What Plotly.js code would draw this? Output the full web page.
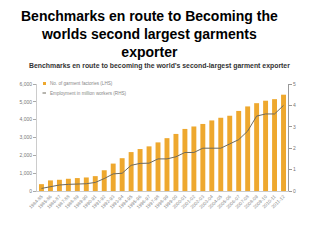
<!DOCTYPE html>
<html><head><meta charset="utf-8">
<script src="https://cdn.plot.ly/plotly-3.0.1.min.js"></script>
<style>html,body{margin:0;padding:0;background:#fff}#c{width:320px;height:240px}</style>
</head><body><div id="c"></div>
<script>
var years = ["1984-85","1985-86","1986-87","1987-88","1988-89","1989-90","1990-91","1991-92","1992-93","1993-94","1994-95","1995-96","1996-97","1997-98","1998-99","1999-00","2000-01","2001-02","2002-03","2003-04","2004-05","2005-06","2006-07","2007-08","2008-09","2009-10","2010-11","2011-12"];
var factories = [384,594,629,685,725,759,834,1163,1537,1839,2182,2353,2503,2726,2963,3200,3480,3618,3760,3957,4107,4220,4490,4743,4925,5063,5150,5400];
var employment = [0.12,0.20,0.28,0.31,0.32,0.34,0.40,0.58,0.80,0.83,1.20,1.29,1.30,1.50,1.50,1.60,1.80,1.80,2.00,2.00,2.00,2.20,2.40,2.80,3.50,3.60,3.60,4.00];
var leftTicks = [0,1000,2000,3000,4000,5000,6000];
var rightTicks = [0,1,2,3,4,5];
var seriesNames = ['No. of garment factories (LHS)','Employment in million workers (RHS)'];
var barColor = '#EEA82E', lineColor = '#6E6A5E';

var traces = [
  {type:'bar', x:years, y:factories, name:seriesNames[0], marker:{color:barColor}},
  {type:'scatter', mode:'lines', x:years, y:employment, yaxis:'y2', name:seriesNames[1], line:{color:lineColor, width:1}}
];
var FF = 'Liberation Sans, Arial, sans-serif';
var tf = {family:FF, size:5, color:'#777'};
var plotH = 240-84-49, plotW = 320-37-32;
function py(yPix){return (240-49-yPix)/plotH;}
function px(xPix){return (xPix-37)/plotW;}
var layout = {
  width:320, height:240, paper_bgcolor:'#fff', plot_bgcolor:'#fff',
  margin:{l:37, r:32, t:84, b:49},
  bargap:0.45, showlegend:false,
  xaxis:{type:'category', tickangle:-45, tickfont:{family:FF, size:4.7, color:'#888'}, showline:true, linecolor:'#ccc', linewidth:1, ticks:'', showgrid:false, automargin:false},
  yaxis:{range:[0,6000], tickvals:leftTicks, ticktext:leftTicks.map(function(v){return v.toLocaleString('en-US');}), tickfont:tf, showgrid:false, zeroline:false, showline:true, linecolor:'#ccc', ticks:'outside', ticklen:3, tickcolor:'#aaa', automargin:false},
  yaxis2:{range:[0,5], tickvals:rightTicks, overlaying:'y', side:'right', tickfont:tf, showgrid:false, zeroline:false, showline:true, linecolor:'#999', ticks:'outside', ticklen:3, tickcolor:'#999', automargin:false},
  shapes:[
    {type:'rect', xref:'paper', yref:'paper', x0:px(43), x1:px(46), y0:py(85), y1:py(82), fillcolor:barColor, line:{width:0}},
    {type:'line', xref:'paper', yref:'paper', x0:px(42.5), x1:px(46), y0:py(93), y1:py(93), line:{color:lineColor, width:1}}
  ],
  annotations:[
    {text:'<b>Benchmarks en route to Becoming the<br>worlds second largest garments<br>exporter</b>', xref:'paper', yref:'paper', x:px(149), y:py(6), xanchor:'center', yanchor:'top', showarrow:false,
     font:{family:FF, size:14, color:'#000'}, align:'center'},
    {text:'<b>Benchmarks en route to becoming the world\u2019s second-largest garment exporter</b>', xref:'paper', yref:'paper', x:px(159), y:py(66), xanchor:'center', yanchor:'middle', showarrow:false,
     font:{family:FF, size:6.9, color:'#333'}},
    {text:seriesNames[0], xref:'paper', yref:'paper', x:px(47.5), y:py(83.5), xanchor:'left', yanchor:'middle', showarrow:false, font:{family:FF, size:4.6, color:'#888'}},
    {text:seriesNames[1], xref:'paper', yref:'paper', x:px(47.5), y:py(93), xanchor:'left', yanchor:'middle', showarrow:false, font:{family:FF, size:4.6, color:'#888'}}
  ]
};
Plotly.newPlot('c', traces, layout, {displayModeBar:false, staticPlot:true});
</script></body></html>
